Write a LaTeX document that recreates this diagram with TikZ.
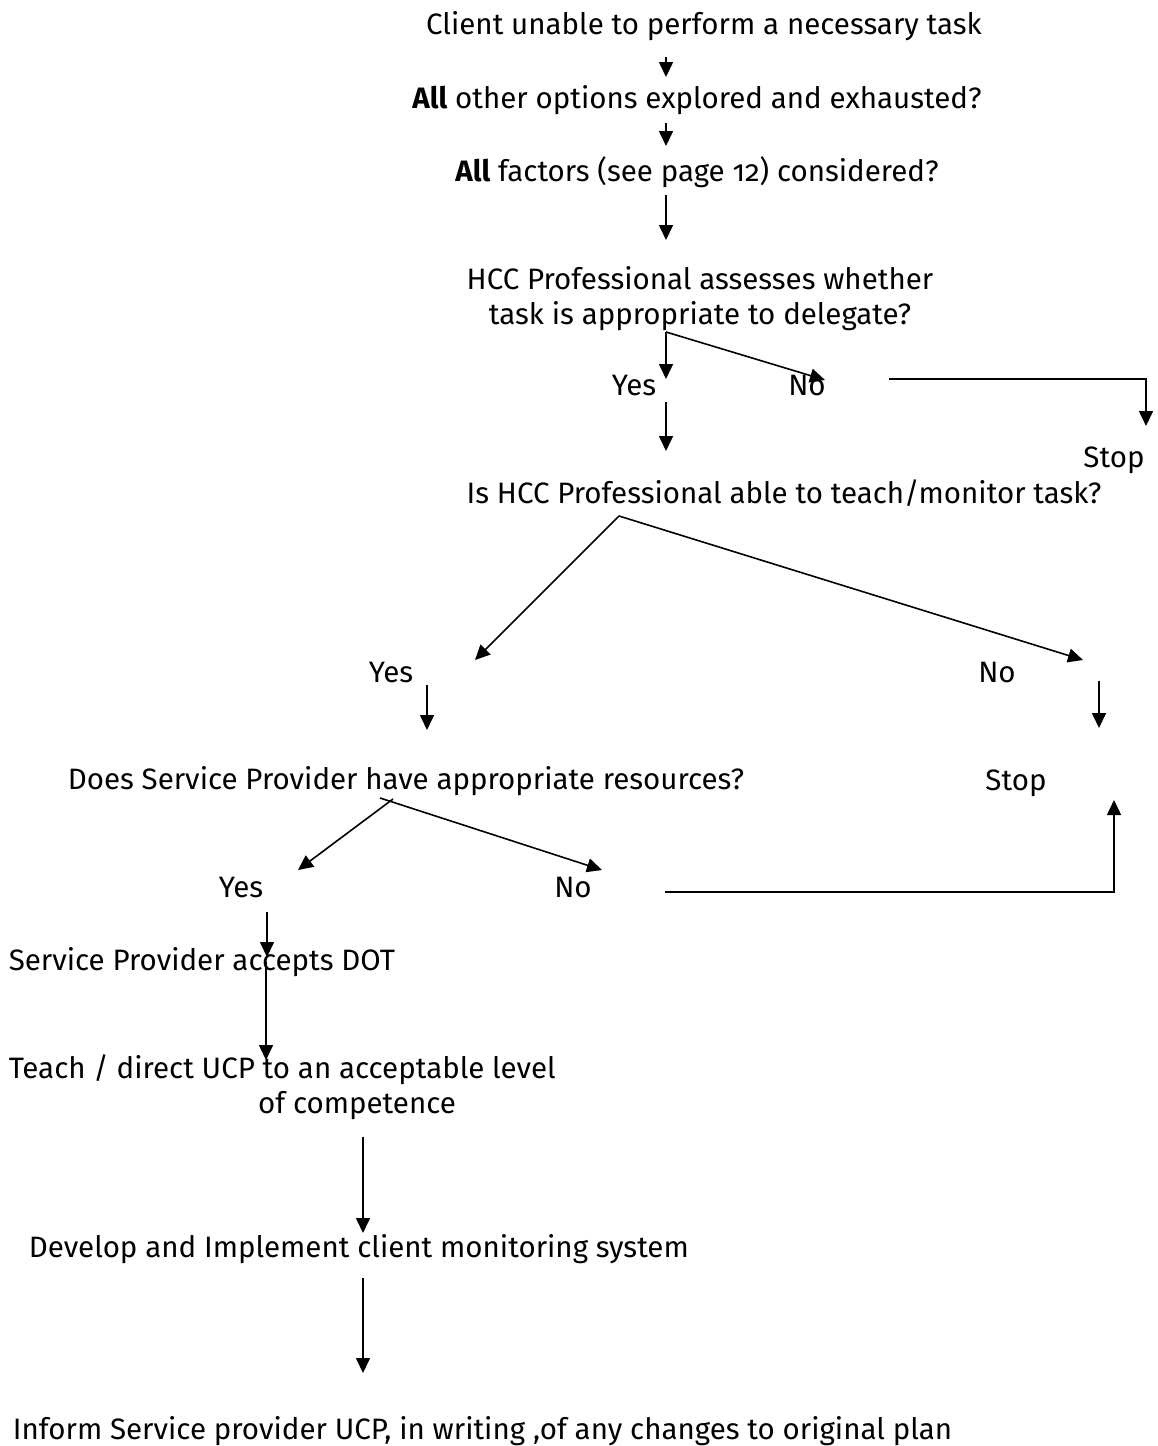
\documentclass[tikz,border=0pt]{standalone}
\usepackage{fontspec}
\setmainfont{Fira Sans}[Numbers=OldStyle]
\usetikzlibrary{arrows.meta}

\begin{document}
\begin{tikzpicture}[x=1pt, y=-1pt, >={Triangle[length=15pt,width=14pt]}, line width=1.6pt,
    font=\fontsize{29.5}{35}\selectfont, txt/.style={inner sep=0pt}]
  \useasboundingbox (0,0) rectangle (1157,1446);

  % top chain
  \node[txt, anchor=base] (client) at (704,34) {Client unable to perform a necessary task};
  \node[txt, anchor=base] (options) at (697,108) {\textbf{All} other options explored and exhausted?};
  \node[txt, anchor=base] (factors) at (697,181) {\textbf{All} factors (see page 12) considered?};
  \node[txt, anchor=base, align=center] (assess) at (700,324) {HCC Professional assesses whether\\task is appropriate to delegate?};
  \node[txt, anchor=base] (yesA) at (634,395) {Yes};
  \node[txt, anchor=base] (noA) at (807,395) {No};
  \node[txt, anchor=base] (stopA) at (1114,467) {Stop};
  \node[txt, anchor=base] (teach) at (784,503) {Is HCC Professional able to teach/monitor task?};
  \node[txt, anchor=base] (yesB) at (391,682) {Yes};
  \node[txt, anchor=base] (noB) at (997,682) {No};
  \node[txt, anchor=base west] (resources) at (67,789) {Does Service Provider have appropriate resources?};
  \node[txt, anchor=base] (stopB) at (1016,790) {Stop};
  \node[txt, anchor=base] (yesC) at (241,897) {Yes};
  \node[txt, anchor=base] (noC) at (573,897) {No};
  \node[txt, anchor=base west] (accepts) at (8,970) {Service Provider accepts DOT};
  \node[txt, anchor=base west] (direct) at (8,1078) {Teach / direct UCP to an acceptable level};
  \node[txt, anchor=base] (competence) at (357,1113) {of competence};
  \node[txt, anchor=base west] (monitor) at (28,1257) {Develop and Implement client monitoring system};
  \node[txt, anchor=base west] (inform) at (12,1439) {Inform Service provider UCP, in writing ,of any changes to original plan};

  % arrow ends
  \coordinate (c1) at (666,57);   \coordinate (c2) at (666,77);
  \coordinate (o1) at (666,123);  \coordinate (o2) at (666,146);
  \coordinate (f1) at (666,195);  \coordinate (f2) at (666,240);
  \coordinate (as) at (666,332);
  \coordinate (yA1) at (666,379); \coordinate (nA1) at (825,380);
  \coordinate (yA2) at (666,402); \coordinate (yA3) at (666,451);
  \coordinate (nA2) at (889,379); \coordinate (nA3) at (1146,379); \coordinate (nA4) at (1146,426);
  \coordinate (te) at (619,516);
  \coordinate (yB1) at (475,660); \coordinate (nB1) at (1083,660);
  \coordinate (yB2) at (427,685); \coordinate (yB3) at (427,730);
  \coordinate (nB2) at (1099,681); \coordinate (nB3) at (1099,728);
  \coordinate (rsY) at (393,799); \coordinate (rsN) at (380,798);
  \coordinate (yC1) at (298,870); \coordinate (nC1) at (602,870);
  \coordinate (nC2) at (665,892); \coordinate (nC3) at (1114,892); \coordinate (nC4) at (1114,800);
  \coordinate (yC2) at (267,912); \coordinate (yC3) at (267,957);
  \coordinate (ac1) at (266,962); \coordinate (ac2) at (266,1060);
  \coordinate (dc1) at (363,1137); \coordinate (dc2) at (363,1233);
  \coordinate (mo1) at (363,1278); \coordinate (mo2) at (363,1373);

  \draw[->] (c1) -- (c2);
  \draw[->] (o1) -- (o2);
  \draw[->] (f1) -- (f2);
  \draw[->] (as) -- (yA1);
  \draw[->] (as) -- (nA1);
  \draw[->] (yA2) -- (yA3);
  \draw[->] (nA2) -- (nA3) -- (nA4);
  \draw[->] (te) -- (yB1);
  \draw[->] (te) -- (nB1);
  \draw[->] (yB2) -- (yB3);
  \draw[->] (nB2) -- (nB3);
  \draw[->] (rsY) -- (yC1);
  \draw[->] (rsN) -- (nC1);
  \draw[->] (nC2) -- (nC3) -- (nC4);
  \draw[->] (yC2) -- (yC3);
  \draw[->] (ac1) -- (ac2);
  \draw[->] (dc1) -- (dc2);
  \draw[->] (mo1) -- (mo2);
\end{tikzpicture}
\end{document}
